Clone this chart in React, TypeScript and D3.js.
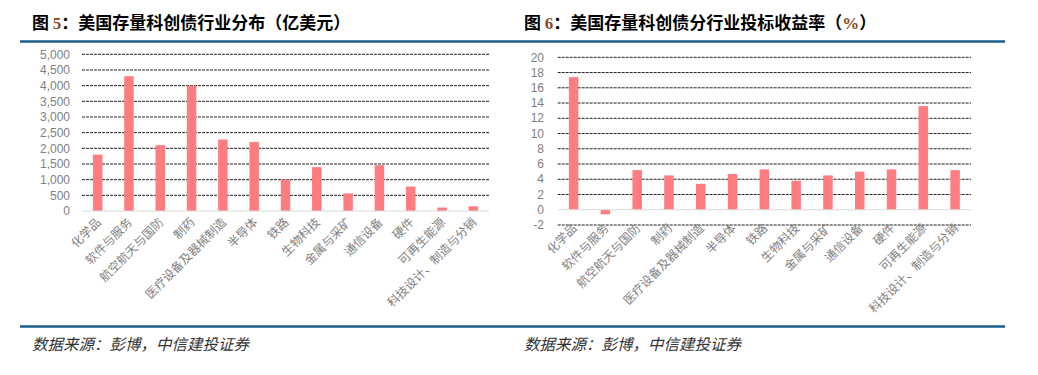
import * as d3 from "d3";

const categories = [
  "化学品", "软件与服务", "航空航天与国防", "制药", "医疗设备及器械制造", "半导体",
  "铁路", "生物科技", "金属与采矿", "通信设备", "硬件", "可再生能源", "科技设计、制造与分销",
];
// 图5: 行业分布（亿美元）
const amountValues = [1800, 4300, 2100, 4000, 2280, 2200, 1000, 1400, 560, 1460, 780, 110, 150];
const amountTicks = [0, 500, 1000, 1500, 2000, 2500, 3000, 3500, 4000, 4500, 5000];
// 图6: 投标收益率（%）
const yieldValues = [17.4, -0.6, 5.2, 4.5, 3.4, 4.7, 5.3, 3.8, 4.5, 5.0, 5.3, 13.6, 5.2];
const yieldTicks = [-2, 0, 2, 4, 6, 8, 10, 12, 14, 16, 18, 20];

const CN = "'Noto Sans CJK SC', 'Liberation Sans', sans-serif";

type PanelProps = {
  values: number[];
  ticks: number[];
  x0: number;
  x1: number;
  yTop: number;
  yBottom: number;
  labelX: number;
  labelY: number;
  fmt: (v: number) => string;
};

function BarPanel(p: PanelProps) {
  const x = d3.scaleBand<string>().domain(categories).range([p.x0, p.x1]);
  const y = d3.scaleLinear()
    .domain([p.ticks[0], p.ticks[p.ticks.length - 1]])
    .range([p.yBottom, p.yTop]);
  const barW = 9.5;
  const zero = y(0);
  return (
    <g>
      {p.ticks.map((t) => (
        <g key={t}>
          {t !== 0 && (
            <line x1={p.x0} x2={p.x1} y1={y(t)} y2={y(t)}
              stroke="#222" strokeWidth={1} strokeDasharray="3,1" />
          )}
          <text x={p.labelX} y={y(t)} dy="0.35em" textAnchor="end"
            fontSize={12} fill="#808080" fontFamily="'Liberation Sans', Arial, sans-serif">
            {p.fmt(t)}
          </text>
        </g>
      ))}
      {categories.map((c, i) => {
        const v = p.values[i];
        const cx = (x(c) ?? 0) + x.bandwidth() / 2;
        return (
          <rect key={c} x={cx - barW / 2} width={barW}
            y={Math.min(y(v), zero)} height={Math.abs(y(v) - zero)} fill="#ff7c80" />
        );
      })}
      <line x1={p.x0} x2={p.x1} y1={zero} y2={zero} stroke="#d9d9d9" strokeWidth={1} />
      {categories.map((c) => {
        const cx = (x(c) ?? 0) + x.bandwidth() / 2;
        return (
          <text key={c} transform={`translate(${cx + 4},${p.labelY}) rotate(-45)`}
            textAnchor="end" fontSize={12} fill="#7f7f7f" fontFamily={CN}>
            {c}
          </text>
        );
      })}
    </g>
  );
}

export default function App() {
  return (
    <svg width={1038} height={375} style={{ position: "absolute", left: 0, top: 0, background: "#fff" }}>
      <rect width={1038} height={375} fill="#fff" />
      {/* titles */}
      <text x={32} y={29} fontSize={17} fontWeight="bold" fill="#000" fontFamily={CN}>
        图 <tspan fill="#8b4a1a" fontFamily="'Liberation Serif', serif">5</tspan>：美国存量科创债行业分布（亿美元）
      </text>
      <text x={524} y={29} fontSize={17} fontWeight="bold" fill="#000" fontFamily={CN}>
        图 <tspan fill="#8b4a1a" fontFamily="'Liberation Serif', serif">6</tspan>：美国存量科创债分行业投标收益率（<tspan fill="#8b4a1a" fontFamily="'Liberation Serif', serif">%</tspan>）
      </text>
      <line x1={20} x2={1005} y1={41.5} y2={41.5} stroke="#1d5b8c" strokeWidth={2.5} />
      <BarPanel values={amountValues} ticks={amountTicks}
        x0={82} x1={489} yTop={54.3} yBottom={211} labelX={70} labelY={223}
        fmt={d3.format(",")} />
      <BarPanel values={yieldValues} ticks={yieldTicks}
        x0={557.7} x1={971} yTop={57.3} yBottom={225} labelX={544} labelY={229}
        fmt={(v) => String(v)} />
      <line x1={20} x2={1005} y1={326.5} y2={326.5} stroke="#1d5b8c" strokeWidth={2.5} />
      <text x={32} y={350} fontSize={15.5} fontStyle="italic" fill="#333" fontFamily={CN}>
        数据来源：彭博，中信建投证券
      </text>
      <text x={524} y={350} fontSize={15.5} fontStyle="italic" fill="#333" fontFamily={CN}>
        数据来源：彭博，中信建投证券
      </text>
    </svg>
  );
}
